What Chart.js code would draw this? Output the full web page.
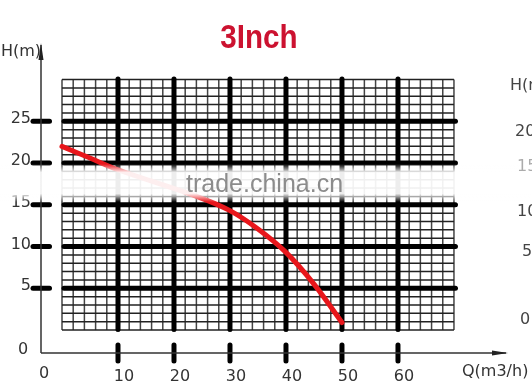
<!DOCTYPE html>
<html>
<head>
<meta charset="utf-8">
<script src="https://cdn.jsdelivr.net/npm/chart.js@4.4.0/dist/chart.umd.min.js"></script>
<style>
  body { margin: 0; background: #fff; }
  #chart { display: block; }
</style>
</head>
<body>
<canvas id="chart" width="532" height="386"></canvas>
<script>
// pump curve
var flow = [0, 5, 10, 24.5, 30, 35, 40, 45, 50];
var head = [22.0, 20.6, 19.2, 15.9, 14.3, 12.1, 9.3, 5.5, 0.9];

var x_ticks = [10, 20, 30, 40, 50, 60];
var y_ticks = [5, 10, 15, 20, 25];

var grid_q_max = 70;
var grid_h_max = 30;
var axis_q = -3.75;   // where the outer axes cross
var axis_h = -2.75;

var title_text = "3Inch";
var x_title = "Q(m3/h)";
var y_title = "H(m)";
var watermark = "trade.china.cn";
// labels of the next chart, cut off by the right edge
var right_labels = ["H(m", "20", "15", "10", "5", "0"];

var points = [];
for (var i = 0; i < flow.length; i++) {
  points.push({ x: flow[i], y: head[i] });
}

var label_font = "16px 'DejaVu Sans'";

var gridPlugin = {
  id: "pumpGrid",
  beforeDatasetsDraw: function(chart) {
    var ctx = chart.ctx;
    var xs = chart.scales.x, ys = chart.scales.y;
    var px = function(v) { return xs.getPixelForValue(v); };
    var py = function(v) { return ys.getPixelForValue(v); };
    var q, h;
    ctx.save();

    // fine grid
    ctx.lineCap = "butt";
    ctx.lineWidth = 1.5;
    ctx.strokeStyle = "#444";
    for (q = 0; q <= grid_q_max; q += 2) {
      ctx.beginPath();
      ctx.moveTo(px(q), py(0));
      ctx.lineTo(px(q), py(grid_h_max));
      ctx.stroke();
    }
    ctx.strokeStyle = "#222";
    for (h = 0; h <= grid_h_max; h += 1) {
      ctx.beginPath();
      ctx.moveTo(px(0), py(h));
      ctx.lineTo(px(grid_q_max), py(h));
      ctx.stroke();
    }

    // heavy lines + outer ticks
    ctx.lineCap = "round";
    ctx.lineWidth = 5;
    ctx.strokeStyle = "#000";
    y_ticks.forEach(function(v) {
      ctx.beginPath();
      ctx.moveTo(px(0) + 2, py(v));
      ctx.lineTo(px(grid_q_max) + 1.5, py(v));
      ctx.stroke();
      ctx.beginPath();
      ctx.moveTo(px(axis_q) - 8, py(v));
      ctx.lineTo(px(axis_q) + 8.5, py(v));
      ctx.stroke();
    });
    x_ticks.forEach(function(v) {
      ctx.beginPath();
      ctx.moveTo(px(v), py(grid_h_max) - 0.5);
      ctx.lineTo(px(v), py(0) - 0.5);
      ctx.stroke();
      ctx.beginPath();
      ctx.moveTo(px(v), py(axis_h) - 8);
      ctx.lineTo(px(v), py(axis_h) + 8);
      ctx.stroke();
    });

    // outer axes with arrows
    var top = chart.chartArea.top, right = chart.chartArea.right;
    ctx.lineCap = "butt";
    ctx.lineWidth = 1.5;
    ctx.strokeStyle = "#333";
    ctx.fillStyle = "#222";
    ctx.beginPath();
    ctx.moveTo(px(axis_q), py(axis_h));
    ctx.lineTo(px(axis_q), top + 2);
    ctx.moveTo(px(axis_q), py(axis_h));
    ctx.lineTo(right - 2, py(axis_h));
    ctx.stroke();
    ctx.beginPath();
    ctx.moveTo(px(axis_q), top);
    ctx.lineTo(px(axis_q) - 2.5, top + 17);
    ctx.lineTo(px(axis_q) + 2.5, top + 17);
    ctx.closePath();
    ctx.fill();
    ctx.beginPath();
    ctx.moveTo(right, py(axis_h));
    ctx.lineTo(right - 16, py(axis_h) - 2.5);
    ctx.lineTo(right - 16, py(axis_h) + 2.5);
    ctx.closePath();
    ctx.fill();

    // tick labels
    ctx.font = label_font;
    ctx.fillStyle = "#333";
    ctx.textBaseline = "middle";
    ctx.textAlign = "right";
    y_ticks.forEach(function(v) {
      ctx.fillText(String(v), px(axis_q) - 10, py(v) - 2);
    });
    ctx.textAlign = "center";
    ctx.fillText("0", px(axis_q) - 18, py(axis_h) - 3);
    ctx.fillText("0", px(axis_q) + 3, py(axis_h) + 21);
    x_ticks.forEach(function(v) {
      ctx.fillText(String(v), px(v) + 6, py(axis_h) + 24);
    });
    ctx.textAlign = "left";
    ctx.fillText(y_title, 1, 52);
    ctx.fillText(x_title, 462, 372);
    ctx.restore();
  },
  afterDatasetsDraw: function(chart) {
    var ctx = chart.ctx;
    ctx.save();

    // faded watermark band
    var g = ctx.createLinearGradient(0, 164, 0, 202);
    g.addColorStop(0, "rgba(255,255,255,0)");
    g.addColorStop(0.22, "rgba(255,255,255,0.93)");
    g.addColorStop(0.78, "rgba(255,255,255,0.93)");
    g.addColorStop(1, "rgba(255,255,255,0)");
    ctx.fillStyle = g;
    ctx.fillRect(0, 164, chart.width, 38);
    ctx.font = "25px 'Liberation Sans'";
    ctx.fillStyle = "#8c8c8c";
    ctx.textAlign = "left";
    ctx.textBaseline = "alphabetic";
    ctx.fillText(watermark, 186, 192);

    // title, condensed bold
    ctx.save();
    ctx.translate(259, 48);
    ctx.scale(0.87, 1);
    ctx.font = "bold 34px 'Liberation Sans'";
    ctx.fillStyle = "#cc1230";
    ctx.textAlign = "center";
    ctx.fillText(title_text, 0, 0);
    ctx.restore();

    // clipped labels of the neighbouring chart
    var rx = [510, 515, 517, 517, 522, 520];
    var ry = [86, 132, 167, 212, 252, 320];
    ctx.font = label_font;
    ctx.fillStyle = "#444";
    ctx.textBaseline = "middle";
    for (var i = 0; i < right_labels.length; i++) {
      ctx.globalAlpha = (i === 2) ? 0.45 : 1;
      ctx.fillText(right_labels[i], rx[i], ry[i]);
    }
    ctx.restore();
  }
};

var chart = new Chart(document.getElementById("chart"), {
  type: "line",
  data: {
    datasets: [{
      data: points,
      borderColor: "#e8161b",
      borderWidth: 5,
      borderCapStyle: "round",
      pointRadius: 0,
      tension: 0.35,
      fill: false
    }]
  },
  options: {
    responsive: false,
    animation: false,
    devicePixelRatio: 1,
    layout: { padding: { left: 41, right: 24, top: 43, bottom: 33 } },
    plugins: {
      legend: { display: false },
      title: { display: false },
      tooltip: { enabled: false }
    },
    scales: {
      x: { type: "linear", min: -3.75, max: 79.65, display: false },
      y: { type: "linear", min: -2.75, max: 34.38, display: false }
    }
  },
  plugins: [gridPlugin]
});
</script>
</body>
</html>
